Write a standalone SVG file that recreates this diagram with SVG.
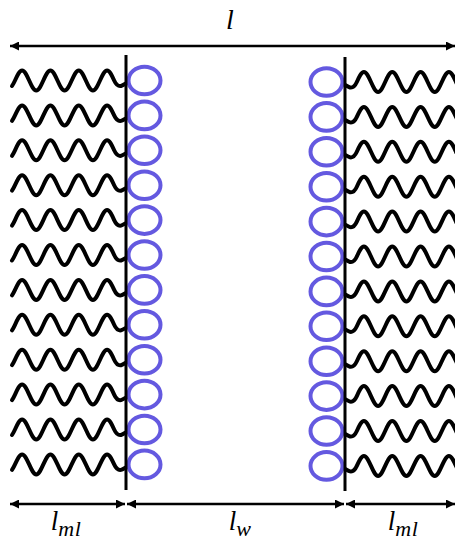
<svg xmlns="http://www.w3.org/2000/svg" xmlns:xlink="http://www.w3.org/1999/xlink" width="455" height="542" viewBox="0 0 455 542">
<style>
.tail{fill:none;stroke:#000;stroke-width:4;stroke-linecap:round;stroke-linejoin:round}
.head{fill:none;stroke:#6459e0;stroke-width:4}
.wall{stroke:#000;stroke-width:3}
.dim{stroke:#000;stroke-width:2.5;marker-start:url(#ah);marker-end:url(#ah)}
.lbl{font-family:"Liberation Serif","DejaVu Serif",serif;font-style:italic;font-size:27px;fill:#000;text-anchor:middle}
.sub{font-size:22px;letter-spacing:0.5px}
</style>
<defs>
<marker id="ah" viewBox="0 0 10 10" refX="10" refY="5" markerWidth="9" markerHeight="9" markerUnits="userSpaceOnUse" orient="auto-start-reverse"><path d="M0,0 L10,5 L0,10 z" fill="#000"/></marker>
<path id="w" class="tail" d="M12,5.5 C13,4 14,2.2 15,0 C17.31,-5.12 19.52,-10 22.08,-10 C24.65,-10 26.86,-5.12 29.17,0 C31.48,5.12 33.69,10 36.25,10 C38.82,10 41.03,5.12 43.33,0 C45.64,-5.12 47.85,-10 50.42,-10 C52.98,-10 55.19,-5.12 57.5,0 C59.81,5.12 62.02,10 64.58,10 C67.15,10 69.36,5.12 71.67,0 C73.98,-5.12 76.19,-10 78.75,-10 C81.32,-10 83.53,-5.12 85.83,0 C88.14,5.12 90.35,10 92.92,10 C95.48,10 97.69,5.12 100,0 C102.31,-5.12 104.52,-10 107.08,-10 C109.65,-10 111.86,-5.12 114.17,0 C116,4 118.5,6 121,5.5 C123,5 124.5,3.5 126,3"/>
<g id="L"><use xlink:href="#w" href="#w"/><ellipse class="head" cx="144.5" cy="0" rx="16" ry="13.8"/></g>
<g id="R"><use xlink:href="#w" href="#w" transform="translate(471,0) scale(-1,1)"/><ellipse class="head" cx="326.5" cy="0" rx="16" ry="13.8"/></g>
</defs>
<g id="left-lipids">
<g id="l1" transform="translate(0,80.5)"><use href="#L" xlink:href="#L"/></g>
<g id="l2" transform="translate(0,115.4)"><use href="#L" xlink:href="#L"/></g>
<g id="l3" transform="translate(0,150.3)"><use href="#L" xlink:href="#L"/></g>
<g id="l4" transform="translate(0,185.2)"><use href="#L" xlink:href="#L"/></g>
<g id="l5" transform="translate(0,220.1)"><use href="#L" xlink:href="#L"/></g>
<g id="l6" transform="translate(0,255)"><use href="#L" xlink:href="#L"/></g>
<g id="l7" transform="translate(0,289.9)"><use href="#L" xlink:href="#L"/></g>
<g id="l8" transform="translate(0,324.8)"><use href="#L" xlink:href="#L"/></g>
<g id="l9" transform="translate(0,359.7)"><use href="#L" xlink:href="#L"/></g>
<g id="l10" transform="translate(0,394.6)"><use href="#L" xlink:href="#L"/></g>
<g id="l11" transform="translate(0,429.5)"><use href="#L" xlink:href="#L"/></g>
<g id="l12" transform="translate(0,464.4)"><use href="#L" xlink:href="#L"/></g>
</g>
<g id="right-lipids">
<g id="r1" transform="translate(0,82)"><use href="#R" xlink:href="#R"/></g>
<g id="r2" transform="translate(0,116.9)"><use href="#R" xlink:href="#R"/></g>
<g id="r3" transform="translate(0,151.8)"><use href="#R" xlink:href="#R"/></g>
<g id="r4" transform="translate(0,186.7)"><use href="#R" xlink:href="#R"/></g>
<g id="r5" transform="translate(0,221.6)"><use href="#R" xlink:href="#R"/></g>
<g id="r6" transform="translate(0,256.5)"><use href="#R" xlink:href="#R"/></g>
<g id="r7" transform="translate(0,291.4)"><use href="#R" xlink:href="#R"/></g>
<g id="r8" transform="translate(0,326.3)"><use href="#R" xlink:href="#R"/></g>
<g id="r9" transform="translate(0,361.2)"><use href="#R" xlink:href="#R"/></g>
<g id="r10" transform="translate(0,396.1)"><use href="#R" xlink:href="#R"/></g>
<g id="r11" transform="translate(0,431)"><use href="#R" xlink:href="#R"/></g>
<g id="r12" transform="translate(0,465.9)"><use href="#R" xlink:href="#R"/></g>
</g>
<g id="walls">
<line class="wall" x1="126" y1="55" x2="126" y2="490"/>
<line class="wall" x1="345" y1="57" x2="345" y2="491"/>
</g>
<g id="connectors">
<line class="dim" x1="10" y1="46" x2="455" y2="46"/>
<line class="dim" x1="10" y1="504" x2="125" y2="504"/>
<line class="dim" x1="127" y1="504" x2="344" y2="504"/>
<line class="dim" x1="346" y1="504" x2="455" y2="504"/>
</g>
<g id="labels">
<text class="lbl" x="230" y="29" style="font-size:28px">l</text>
<text class="lbl" x="66" y="530">l<tspan class="sub" dy="6">ml</tspan></text>
<text class="lbl" x="240" y="530">l<tspan class="sub" dy="6">w</tspan></text>
<text class="lbl" x="403" y="530">l<tspan class="sub" dy="6">ml</tspan></text>
</g>
</svg>
